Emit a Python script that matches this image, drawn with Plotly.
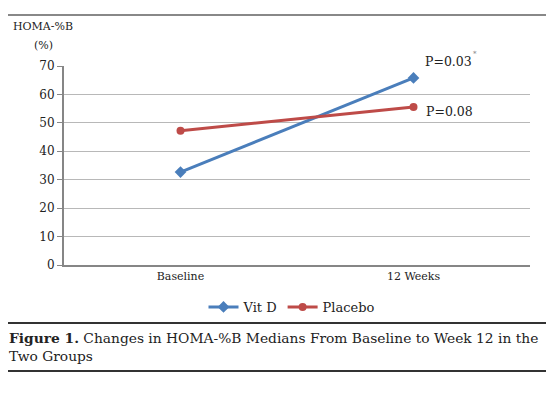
import plotly.graph_objects as go

categories = ["Baseline", "12 Weeks"]
vitd = [32.7, 65.8]
placebo = [47.2, 55.6]
y_ticks = [0, 10, 20, 30, 40, 50, 60, 70]

FONT = "DejaVu Serif"
OFF = 8  # browser body margin
W, H = 554 - OFF, 393 - OFF
L, T = 64 - OFF, 66 - OFF
R = W - (530 - OFF)
B = H - (265 - OFF)
pw, ph = W - L - R, H - T - B

def px(sx):
    return (sx - OFF - L) / pw

def py(sy):
    return (H - B - (sy - OFF)) / ph

fig = go.Figure()
fig.add_trace(go.Scatter(x=categories, y=vitd, name="Vit D", mode="lines+markers",
                         line=dict(color="#4a7ebb", width=3),
                         marker=dict(symbol="diamond", size=9, color="#4a7ebb")))
fig.add_trace(go.Scatter(x=categories, y=placebo, name="Placebo", mode="lines+markers",
                         line=dict(color="#be4b48", width=3),
                         marker=dict(symbol="circle", size=8, color="#be4b48")))

fig.update_layout(
    width=W, height=H, margin=dict(l=L, r=R, t=T, b=B),
    paper_bgcolor="white", plot_bgcolor="white",
    font=dict(family=FONT, size=11, color="#222"),
    xaxis=dict(type="category", range=[-0.5, 1.5], showgrid=False,
               showline=True, linecolor="#868686", linewidth=2, ticks="",
               tickfont=dict(size=11), fixedrange=True),
    yaxis=dict(range=[0, 70], tickvals=y_ticks, showgrid=True, gridcolor="#b8b8b8",
               gridwidth=1, showline=True, linecolor="#868686", linewidth=2,
               ticks="outside", ticklen=5, tickcolor="#868686",
               tickfont=dict(size=12), zeroline=False, fixedrange=True),
    legend=dict(orientation="h", x=px(292), xanchor="center", y=py(307), yanchor="middle",
                font=dict(size=13), itemwidth=30, tracegroupgap=0),
    showlegend=True,
)

# Axis title
fig.add_annotation(xref="paper", yref="paper", x=px(43), y=py(27), text="HOMA-%B",
                   showarrow=False, font=dict(size=11, family=FONT), xanchor="center", yanchor="middle")
fig.add_annotation(xref="paper", yref="paper", x=px(43), y=py(45), text="(%)",
                   showarrow=False, font=dict(size=11, family=FONT), xanchor="center", yanchor="middle")
# P-values
fig.add_annotation(xref="paper", yref="paper", x=px(423), y=py(61), text="P=0.03",
                   showarrow=False, font=dict(size=12.5, family=FONT), xanchor="left", yanchor="middle")
fig.add_annotation(xref="paper", yref="paper", x=px(471), y=py(54), text="*",
                   showarrow=False, font=dict(size=7, family=FONT, color="#888"), xanchor="left", yanchor="middle")
fig.add_annotation(xref="paper", yref="paper", x=px(424), y=py(111), text="P=0.08",
                   showarrow=False, font=dict(size=12.5, family=FONT), xanchor="left", yanchor="middle")

# Rules
fig.add_shape(type="line", xref="paper", yref="paper", x0=px(8), x1=px(546), y0=py(15), y1=py(15),
              line=dict(color="#888", width=2))
fig.add_shape(type="line", xref="paper", yref="paper", x0=px(8), x1=px(546), y0=py(323), y1=py(323),
              line=dict(color="#333", width=2))
fig.add_shape(type="line", xref="paper", yref="paper", x0=px(8), x1=px(546), y0=py(371), y1=py(371),
              line=dict(color="#333", width=2))

# Caption
fig.add_annotation(xref="paper", yref="paper", x=px(7), y=py(347), xanchor="left", yanchor="middle",
                   align="left", showarrow=False,
                   text="<b>Figure 1.</b> Changes in HOMA-%B Medians From Baseline to Week 12 in the<br>Two Groups",
                   font=dict(size=13.8, family=FONT, color="#222"))

fig.write_html("out.html")
